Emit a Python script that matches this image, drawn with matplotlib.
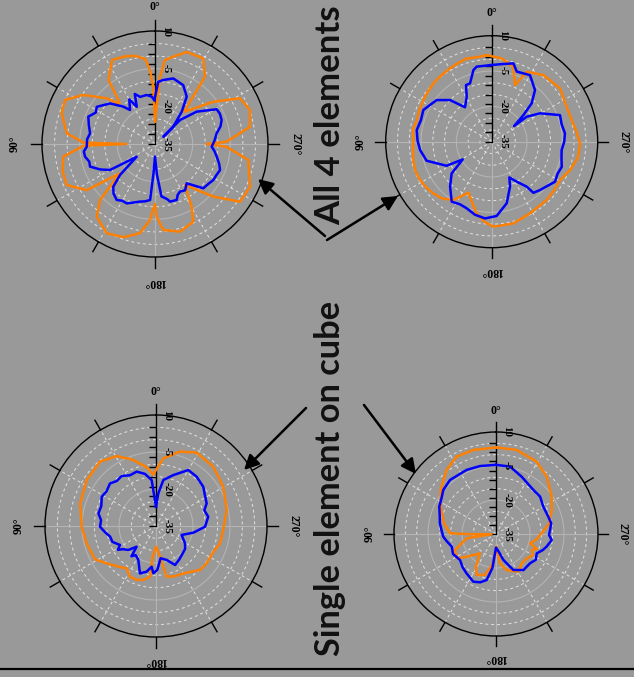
import numpy as np
import matplotlib.pyplot as plt

W, H = 634, 677
BG = '#999999'
ORANGE = '#ff8000'
BLUE = '#0000ff'
RMIN, RMAX = -35, 10

# ---- plot 1 (top left, all 4 elements) ----
p1_orange_deg = [0, 1.7, 3.9, 6.5, 12, 18, 27, 36, 39.8, 41.7, 46.6, 55.6, 63.9, 71.8, 83.1, 88.9, 90,
                 91.4, 97.9, 106.7, 114.9, 124, 129.9, 135.5, 141.3, 151.6, 161.2, 170.5, 176.2, 180,
                 181.3, 185.5, 195.9, 206.2, 210.3, 216.2, 228, 235.8, 245.8, 260.3, 267.8, 270,
                 271.8, 280.3, 289.7, 298.3, 305.9, 318, 323.4, 330.6, 341, 348.2, 353.2, 355.8, 360]
p1_orange_db = [-26, -12.2, -5.5, -1, 0.8, 1.8, 2.6, -3.5, -12.2, -13.6, -8.5, -0.4, 4.9, 4.1, 0.4, -6.5, -23.5,
                -6.5, 1.9, 3.4, 3.8, -2.2, -16.8, -3.8, 2.1, 5.4, 4.2, 1.0, -4.7, -11.1,
                -6.1, -0.6, 1.3, -0.5, -6.1, -14.8, -3.7, 5.9, 6.5, 2.7, -6.5, -14.4,
                -6.5, 3.4, 5.2, 3.4, -6.3, -17.7, -1.6, 4.1, 3.8, 0.5, -1.3, -8.1, -26]
p1_blue_deg = [0.9, 4, 9.6, 17.6, 22, 26.1, 30, 36.3, 40.3, 47.9, 57.4, 62, 67.7, 74, 80.7, 86, 92.3, 96,
               100.3, 105, 109.2, 115, 120, 124.8, 131.5, 135.7, 140, 145.6, 150, 154.5, 160, 165.4, 170,
               175, 177, 180, 183.5, 187, 192.5, 194.6, 201.2, 204, 207.7, 213, 218.9, 227.5, 233, 238.3,
               243, 248.2, 253, 258.4, 263, 267.3, 273, 279.8, 285, 289.8, 295, 299.4, 307.8, 313.8, 311,
               313.4, 320.4, 326.2, 334.4, 344.4, 352.6, 357, 360.9]
p1_blue_db = [-17.5, -16.1, -15.2, -15.3, -13.5, -18.5, -14.5, -18.2, -15.5, -10.9, -7.5, -8.3, -6.3, -7.6,
              -8.8, -7.9, -7.8, -6.5, -6.7, -7.9, -7.6, -11, -14.3, -26.1, -16.4, -11.2, -9.3, -8, -8.9,
              -8.8, -10.2, -11.3, -11.8, -12.6, -23, -30, -23, -14, -12.5, -11.3, -11.1, -12.8, -13.6, -13,
              -14.9, -8.9, -8.5, -7.7, -7.6, -7.1, -8.3, -9.9, -11.1, -12.4, -11.3, -10.1, -8, -6.8, -6.5,
              -6.8, -14, -21.2, -30.6, -25, -18.3, -12.3, -9, -7.9, -9.3, -10.2, -17.5]

# ---- plot 2 (top right, all 4 elements) ----
p2_orange_deg = [3.3, 10, 16.7, 24, 29.6, 37, 45, 52, 58.6, 66, 73.9, 81, 88.8, 96, 103.2, 111, 118.1,
                 125, 131.5, 139, 146.7, 155.4, 168, 175, 181.1, 194.9, 208.1, 223.3, 232, 240.7, 250.1,
                 259.8, 268.9, 277, 285.2, 295, 308, 322.2, 333.4, 337.6, 343.9, 353.2, 363.3]
p2_orange_db = [1.8, 1.4, 1.9, 1.2, 0.8, 0.4, 0, -0.6, -1.0, -1.5, -1.9, -1.2, -1.7, -1.4, -0.8, -0.3, -0.5,
                -1.1, -1.9, -3.0, -5.4, -11.2, -3.9, -0.8, 1.1, 0.9, -0.5, -1.0, -1.4, -1.7, 0.4,
                2.3, 2.5, 1.2, 0.2, 0.1, 1.8, 0.8, -1.8, -9, -1.9, 0.6, 1.8]
p2_blue_deg = [1.2, 11.3, 14.3, 20.4, 24.4, 29.1, 37.8, 45, 52.9, 65.1, 73, 81.2, 89, 96.6, 106.3, 118.1,
               121.4, 128.4, 137.2, 146.3, 153, 159.4, 167, 175, 183.8, 193.7, 202.2, 206.3, 212, 217.9,
               219.2, 225, 237.7, 244, 250.3, 257, 263.2, 270, 276.5, 284, 291.3, 300.4, 305.5, 305,
               310, 313.8, 320, 330.1, 340.3, 344.5, 352.7, 361.2]
p2_blue_db = [-2.5, -2.5, -3.6, -8.6, -8.6, -13.2, -16.5, -10, -5.7, -3.0, -3.6, -2.8, -3.5, -4.4, -6.2, -13.3,
              -20.6, -13.3, -9, -4.4, -5.2, -4.8, -3.2, -2.3, -3.4, -8.1, -14.4, -18.1, -15, -10.8,
              -7.0, -6, -3.2, -3.9, -3.4, -4.6, -5.1, -4.2, -3.7, -4.4, -3.9, -11.2, -16.7, -23.4,
              -17.4, -11.5, -6.4, -2.4, -3.4, -0.5, -1.8, -2.5]

# ---- plot 3 (bottom left, single element) ----
p3_orange_deg = [3, 9, 18.9, 29.3, 41, 56.4, 73.4, 90.5, 104, 118.7, 127.1, 137, 145.3, 152.8, 160.3,
                 167, 173.2, 173.8, 180, 187.4, 191.9, 200, 210, 225, 233.6, 245.9, 254.8, 266.6, 282.8,
                 300.3, 316, 331, 342.1, 353.8, 363]
p3_orange_db = [-14, -10.9, -6.7, -2.5, -0.4, -1.3, -2.9, -4.9, -6.0, -6.8, -9.9, -12.5, -14.1, -11.9, -11.8,
                -12.6, -14.3, -22.5, -26.6, -22.5, -14, -13.3, -12.8, -9.8, -9.5, -9.5, -8.1, -7.7, -5.6,
                -3.4, -1.6, -1.0, -3.3, -7.4, -14]
p3_blue_deg = [0, 5.4, 12, 19.6, 27, 34.5, 41, 47.2, 55, 61.6, 70, 77.6, 84, 90.7, 97, 103, 110, 117.8,
               122, 125, 131, 136.9, 141, 145, 152.5, 161.3, 168.4, 173.9, 176.8, 181.7, 188.2, 197.4,
               206, 215, 224.3, 232, 239.1, 250.7, 259.9, 269.2, 280.1, 288, 294.1, 302, 309.7, 320.5,
               330, 341.2, 350.9, 355.9, 360]
p3_blue_db = [-27.2, -16.3, -13.4, -11.6, -11.9, -10.4, -10.8, -9.6, -10.5, -10, -11.4, -11.1, -12.6, -12.3,
              -14.2, -15.9, -16.2, -18.5, -16.8, -18.6, -20.2, -23.5, -19.2, -20.6, -19.5, -14.7, -16.1,
              -18.4, -15.8, -17.2, -21.8, -20.6, -17.4, -18.5, -19.5, -20, -21.3, -24, -19.6, -15.1,
              -13.5, -14.4, -12.5, -11.6, -10.1, -9.1, -8.8, -13.2, -16.1, -21.7, -27.2]

# ---- plot 4 (bottom right, single element) ----
p4_orange_deg = [0, 15.1, 27, 37.6, 51.5, 63.7, 78.4, 89.2, 90.5, 92, 98.4, 111.3, 122.2, 130.2, 140.4,
                 148.5, 154.7, 165, 174.8, 181, 187.8, 196.5, 210.7, 221.2, 231.6, 240, 245.8, 250, 254.7,
                 262, 268.7, 279.8, 293.3, 303.8, 318.5, 330.7, 346.2, 360]
p4_orange_db = [3.2, 3.4, 3.3, 0.7, -3.8, -7.8, -11.6, -14.7, -24, -33, -21.9, -15.6, -14.8, -20, -23.9,
                -18.1, -15, -16.3, -22, -29.4, -21.9, -18.4, -15.7, -17.8, -17.7, -16.2, -17.7, -15.8, -19.4,
                -17, -15.6, -11.6, -8.2, -5.4, -1.2, 1.6, 3.2, 3.2]
p4_blue_deg = [0, 13.2, 24.6, 40.4, 50.1, 57, 64.2, 72, 79.2, 86, 92.9, 99, 105.9, 115, 125.8, 135, 143.3,
               154.6, 162, 168.5, 174, 180, 189, 195.8, 205.7, 217.2, 229.2, 237, 244.6, 251, 256, 263.8,
               269, 274.2, 281, 288.3, 300, 310.3, 319.7, 335.9, 348.3, 360]
p4_blue_db = [-4.5, -4.2, -3.9, -3.7, -4.7, -6.3, -7.2, -8.9, -9.8, -10.9, -11.7, -13.2, -14.7, -14.1, -15.4,
              -14.2, -13.3, -11.7, -12.6, -14.3, -20, -29, -27, -23.1, -17.4, -15, -15.2, -14.1, -15.1,
              -13.2, -12, -10.3, -11.6, -11.1, -10.2, -10.7, -10.9, -9.5, -9.5, -7.3, -4.6, -4.5]

# layout: centre (px), radius (px)
panels = [
    ((155, 144), 113, p1_orange_deg, p1_orange_db, p1_blue_deg, p1_blue_db),
    ((491.7, 141.7), 106, p2_orange_deg, p2_orange_db, p2_blue_deg, p2_blue_db),
    ((156, 526), 111, p3_orange_deg, p3_orange_db, p3_blue_deg, p3_blue_db),
    ((496, 534), 102, p4_orange_deg, p4_orange_db, p4_blue_deg, p4_blue_db),
]

SERIF = dict(family='Liberation Serif', weight='bold')

fig = plt.figure(figsize=(W / 100, H / 100), dpi=100)
fig.patch.set_facecolor(BG)


def polar_panel(center, radius, o_deg, o_db, b_deg, b_db):
    cx, cy = center
    ax = fig.add_axes([(cx - radius) / W, (H - cy - radius) / H, 2 * radius / W, 2 * radius / H],
                      projection='polar')
    ax.set_facecolor('none')
    ax.set_theta_zero_location('N')
    ax.set_theta_direction(1)
    ax.set_rlim(RMIN, RMAX)
    ax.set_xticks([])
    ax.set_yticks([])
    ax.grid(False)
    ax.spines['polar'].set_color('black')
    ax.spines['polar'].set_linewidth(1.0)

    # grid
    full = np.linspace(0, 2 * np.pi, 361)
    for v in range(-30, 10, 5):
        if v in (-20, -5):
            ax.plot(full, np.full_like(full, v), color='#b4b4b4', lw=0.8, zorder=1)
        else:
            ax.plot(full, np.full_like(full, v), color='#e2e2e2', lw=0.7, ls=(0, (3, 3)), zorder=1)
    for a in range(30, 360, 30):
        t = np.deg2rad(a)
        if a % 90 == 0:
            ax.plot([t, t], [RMIN, RMAX], color='#b4b4b4', lw=0.8, zorder=1)
        else:
            ax.plot([t, t], [RMIN, RMAX], color='#e2e2e2', lw=0.7, ls=(0, (3, 3)), zorder=1)

    ext = 0.1 * (RMAX - RMIN)
    # outer angular ticks + radial axis
    for a in range(30, 360, 30):
        t = np.deg2rad(a)
        ax.plot([t, t], [RMAX, RMAX + ext], color='black', lw=1.0, clip_on=False, zorder=3)
    ax.plot([0, 0], [RMIN, RMAX + ext], color='black', lw=1.0, clip_on=False, zorder=4)
    ax.plot(np.zeros(11), np.arange(RMIN, RMIN + 44, 4), ls='none', marker=0, ms=5, mew=1.0,
            color='black', clip_on=False, zorder=4)

    # curves
    ax.plot(np.deg2rad(o_deg), o_db, color=ORANGE, lw=1.8, zorder=5)
    ax.plot(np.deg2rad(b_deg), b_db, color=BLUE, lw=1.8, zorder=5)

    # radial labels
    for v in (10, -5, -20, -35):
        ax.annotate(str(v), xy=(0, v), xytext=(8, 0), textcoords='offset points', rotation=-90,
                    ha='center', va='center', fontsize=8, zorder=6, **SERIF)
    # angle labels
    for a, rot, k in ((0, 0, 1.21), (90, 90, 1.24), (180, 180, 1.22), (270, -90, 1.24)):
        ax.text(np.deg2rad(a), RMIN + k * (RMAX - RMIN), f'{a}°', rotation=rot, ha='center',
                va='center', fontsize=8.5, clip_on=False, **SERIF)
    return ax


for p in panels:
    polar_panel(*p)

# overlay for annotations
ov = fig.add_axes([0, 0, 1, 1])
ov.set_xlim(0, W)
ov.set_ylim(H, 0)
ov.axis('off')
ov.patch.set_alpha(0)

txt_style = dict(family='Lato', weight='bold', color='#111111', rotation=90,
                 ha='center', va='center')
t1 = ov.text(330, 115, 'All 4 elements', fontsize=24, **txt_style)
t2 = ov.text(330, 478, 'Single element on cube', fontsize=24, **txt_style)
fig.canvas.draw()
for t, target in ((t1, 220), (t2, 355)):
    h = t.get_window_extent().height
    t.set_fontsize(24 * target / h)

arrows = [((325, 236), (258, 179)), ((327, 240), (398, 196)),
          ((306, 408), (244, 470)), ((364, 405), (416, 474))]
for start, tip in arrows:
    ov.annotate('', xy=tip, xytext=start,
                arrowprops=dict(arrowstyle='-|>', color='black', lw=1.8, mutation_scale=22,
                                shrinkA=0, shrinkB=0))

ov.plot([0, W], [669, 669], color='black', lw=1.6)

fig.savefig('out.png', dpi=100, facecolor=BG)
